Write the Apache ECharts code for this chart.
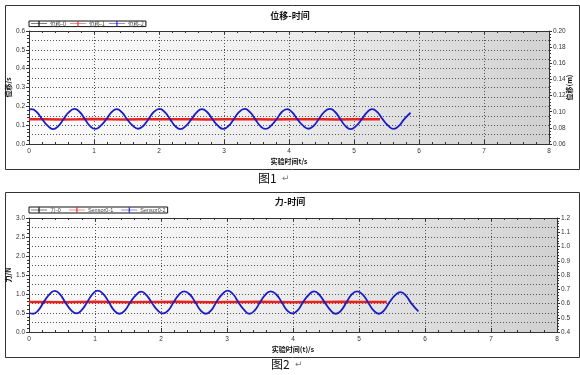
<!DOCTYPE html>
<html><head><meta charset="utf-8">
<script src="https://cdn.jsdelivr.net/npm/echarts@6/dist/echarts.min.js"></script>
<style>html,body{margin:0;padding:0;background:#fff}#c{width:580px;height:375px}</style>
</head><body><div id="c"></div>
<script>
// ---- data ----
const chart1Title = '位移-时间';
const chart2Title = '力-时间';
const chart1Names = ['位移-0', '位移-1', '位移-2'];
const chart2Names = ['力-0', 'Sensor0-1', 'Sensor0-2'];
const captions = ['图1', '图2'];

const c1BlueT = [0,
 0.04,0.12,0.20,0.29,0.37,0.45,0.53,0.61,
 0.70,0.78,0.86,0.94,1.02,1.10,1.19,1.27,
 1.35,1.43,1.51,1.60,1.68,1.76,1.84,1.92,
 2.01,2.09,2.17,2.25,2.33,2.41,2.50,2.58,
 2.66,2.74,2.82,2.91,2.99,3.07,3.15,3.23,
 3.32,3.40,3.48,3.56,3.64,3.72,3.81,3.89,
 3.97,4.05,4.13,4.22,4.30,4.38,4.46,4.54,
 4.63,4.71,4.79,4.87,4.95,5.03,5.12,5.20,
 5.28,5.36,5.44,5.53,5.61,5.69,5.77,5.87];
const c1BlueV = [0.183,
 0.185,0.169,0.133,0.096,0.079,0.095,0.131,0.168,
 0.186,0.170,0.132,0.095,0.080,0.096,0.132,0.169,
 0.185,0.168,0.131,0.096,0.081,0.097,0.133,0.170,
 0.186,0.169,0.132,0.095,0.079,0.095,0.132,0.168,
 0.185,0.170,0.133,0.096,0.080,0.096,0.131,0.169,
 0.186,0.169,0.132,0.095,0.080,0.096,0.132,0.170,
 0.185,0.168,0.131,0.096,0.081,0.097,0.133,0.169,
 0.186,0.170,0.132,0.095,0.079,0.095,0.132,0.168,
 0.185,0.169,0.132,0.096,0.080,0.096,0.131,0.166];
const c1RedT = [0,0.25,0.5,0.75,1,1.25,1.5,1.75,2,2.25,2.5,2.75,3,3.25,3.5,3.75,4,4.25,4.5,4.75,5,5.25,5.4];
const c1RedV = [0.131,0.132,0.130,0.131,0.133,0.131,0.130,0.132,0.131,0.131,0.132,0.130,0.131,0.132,0.131,0.130,0.131,0.132,0.131,0.130,0.131,0.132,0.131];

const c2BlueT = [0,
 0.06,0.14,0.22,0.31,0.39,0.47,0.55,0.64,
 0.72,0.80,0.88,0.96,1.04,1.13,1.21,1.29,
 1.37,1.45,1.53,1.62,1.70,1.78,1.86,1.95,
 2.03,2.11,2.19,2.27,2.35,2.44,2.52,2.60,
 2.68,2.76,2.84,2.93,3.01,3.09,3.17,3.26,
 3.34,3.42,3.50,3.58,3.66,3.75,3.83,3.91,
 3.99,4.07,4.15,4.24,4.32,4.40,4.48,4.57,
 4.65,4.73,4.81,4.89,4.97,5.06,5.14,5.22,
 5.30,5.38,5.46,5.55,5.63,5.71,5.79,5.90];
const c2BlueV = [0.50,
 0.48,0.57,0.78,0.99,1.08,0.99,0.78,0.57,
 0.49,0.58,0.78,0.99,1.09,0.99,0.78,0.57,
 0.48,0.56,0.77,0.97,1.06,0.97,0.77,0.57,
 0.49,0.57,0.78,0.98,1.07,0.98,0.78,0.57,
 0.48,0.57,0.79,1.00,1.09,1.00,0.79,0.58,
 0.48,0.57,0.78,0.98,1.07,0.98,0.78,0.57,
 0.49,0.57,0.78,0.98,1.07,0.98,0.78,0.57,
 0.48,0.57,0.78,0.99,1.07,0.98,0.77,0.57,
 0.48,0.57,0.78,0.97,1.05,0.96,0.76,0.54];
const c2RedT = [0,0.25,0.5,0.75,1,1.25,1.5,1.75,2,2.25,2.5,2.75,3,3.25,3.5,3.75,4,4.25,4.5,4.75,5,5.25,5.42];
const c2RedV = [0.79,0.79,0.785,0.79,0.795,0.79,0.785,0.79,0.79,0.795,0.79,0.785,0.79,0.79,0.795,0.79,0.785,0.79,0.79,0.795,0.79,0.79,0.79];

// ---- build ----
const zip = (t, v) => t.map((x, i) => [x, v[i]]);
const FONT = '"Liberation Sans", Arial, sans-serif';
const CJK = '"Noto Sans CJK SC", sans-serif';
const dark = '#333';
const bg = {type:'linear', x:0, y:0, x2:1, y2:1, colorStops:[{offset:0,color:'#fdfdfd'},{offset:0.5,color:'#ececec'},{offset:1,color:'#d0d0d0'}]};
const dotted = {color:'#555', width:1, type:[1,2]};
const plusIcon = 'path://M0,4.6H9.3V1.5H10.7V4.6H20V5.4H10.7V8.5H9.3V5.4H0Z';

function xBottom(gi, name){
  return {type:'value', gridIndex:gi, min:0, max:8, interval:1, position:'bottom',
    axisLine:{show:true, onZero:false, lineStyle:{color:dark}},
    axisTick:{show:true, inside:true, length:4, lineStyle:{color:dark}},
    minorTick:{show:true, splitNumber:5, length:2, lineStyle:{color:dark}},
    axisLabel:{fontSize:6.5, color:dark, fontFamily:FONT, margin:4},
    splitLine:{show:true, lineStyle:dotted},
    name:name, nameLocation:'middle', nameGap:14, nameMoveOverlap:false,
    nameTextStyle:{fontSize:7, fontWeight:'bold', color:'#111', fontFamily:CJK}};
}
function xTop(gi){
  return {type:'value', gridIndex:gi, min:0, max:8, interval:1, position:'top',
    axisLine:{show:true, onZero:false, lineStyle:{color:dark}},
    axisTick:{show:true, inside:true, length:3, lineStyle:{color:dark}},
    minorTick:{show:true, splitNumber:5, length:2, lineStyle:{color:dark}},
    axisLabel:{show:false}, splitLine:{show:false}};
}
function yAx(gi, pos, min, max, interval, dec, name, nameGap){
  return {type:'value', gridIndex:gi, position:pos, min:min, max:max, interval:interval,
    axisLine:{show:true, onZero:false, lineStyle:{color:dark}},
    axisTick:{show:true, length:3, lineStyle:{color:dark}},
    minorTick:{show:true, splitNumber:5, length:2, lineStyle:{color:dark}},
    axisLabel:{fontSize:6.5, color:dark, fontFamily:FONT, margin:4, formatter:v=>v.toFixed(dec)},
    splitLine:{show:false},
    name:name, nameLocation:'middle', nameGap:nameGap, nameRotate:90, nameMoveOverlap:false,
    nameTextStyle:{fontSize:7, fontWeight:'bold', color:'#111', fontFamily:CJK}};
}
function yGridAx(gi, min, max, interval){
  return {type:'value', gridIndex:gi, position:'left', min:min, max:max, interval:interval,
    axisLine:{show:false}, axisTick:{show:false}, axisLabel:{show:false},
    splitLine:{show:true, lineStyle:dotted}};
}

const option = {
  animation:false,
  backgroundColor:'#fff',
  title:[
    {text:chart1Title, left:'center', top:6, textStyle:{fontSize:9, fontWeight:'bold', color:'#111', fontFamily:CJK}},
    {text:chart2Title, left:'center', top:192, textStyle:{fontSize:9, fontWeight:'bold', color:'#111', fontFamily:CJK}}
  ],
  legend:[
    {data:chart1Names, left:29, top:21, orient:'horizontal', backgroundColor:'#fff', borderColor:'#111', borderWidth:1,
     padding:[0,2], itemGap:4, itemWidth:16, itemHeight:6, icon:plusIcon, textStyle:{fontSize:5.5, color:'#444', fontFamily:CJK, padding:[0,0,0,-2]}},
    {data:chart2Names, left:29, top:207, orient:'horizontal', backgroundColor:'#fff', borderColor:'#111', borderWidth:1,
     padding:[0,2], itemGap:8, itemWidth:16, itemHeight:6, icon:plusIcon, textStyle:{fontSize:5.5, color:'#444', fontFamily:FONT, padding:[0,0,0,-2]}}
  ],
  grid:[
    {left:29, top:31, width:520, height:113, show:true, backgroundColor:bg, borderWidth:0, outerBoundsMode:'none', containLabel:false},
    {left:29, top:218, width:528, height:114, show:true, backgroundColor:bg, borderWidth:0, outerBoundsMode:'none', containLabel:false}
  ],
  xAxis:[ xBottom(0,'实验时间t/s'), xTop(0), xBottom(1,'实验时间(t)/s'), xTop(1) ],
  yAxis:[
    yAx(0,'left',0,0.6,0.1,1,'位移/s',17),
    yAx(0,'right',0.06,0.20,0.02,2,'位移(m)',17),
    yGridAx(0,0,0.6,0.05),
    yAx(1,'left',0,3,0.5,1,'力/N',17),
    yAx(1,'right',0.4,1.2,0.1,1,'',19),
    yGridAx(1,0,3,0.25)
  ],
  series:[
    {name:chart1Names[0], type:'line', xAxisIndex:0, yAxisIndex:0, data:[], color:'#000', symbol:'none'},
    {name:chart1Names[1], type:'line', xAxisIndex:0, yAxisIndex:0, data:zip(c1RedT,c1RedV), color:'#e8231f', symbol:'none', lineStyle:{width:2.5}},
    {name:chart1Names[2], type:'line', xAxisIndex:0, yAxisIndex:0, data:zip(c1BlueT,c1BlueV), color:'#1c1cc4', symbol:'none', smooth:0.5, lineStyle:{width:1.8}},
    {name:chart2Names[0], type:'line', xAxisIndex:2, yAxisIndex:3, data:[], color:'#000', symbol:'none'},
    {name:chart2Names[1], type:'line', xAxisIndex:2, yAxisIndex:3, data:zip(c2RedT,c2RedV), color:'#e8231f', symbol:'none', lineStyle:{width:2.5}},
    {name:chart2Names[2], type:'line', xAxisIndex:2, yAxisIndex:3, data:zip(c2BlueT,c2BlueV), color:'#1c1cc4', symbol:'none', smooth:0.5, lineStyle:{width:1.8}}
  ],
  graphic:[
    {type:'rect', left:3, top:3, shape:{width:574, height:164}, style:{fill:'none', stroke:'#333', lineWidth:1}, silent:true, z:-1},
    {type:'rect', left:3, top:190, shape:{width:574, height:165}, style:{fill:'none', stroke:'#333', lineWidth:1}, silent:true, z:-1},
    {type:'text', left:258, top:172, style:{text:captions[0], font:'12px "Noto Sans CJK SC"', fill:'#111'}},
    {type:'text', left:282, top:174, style:{text:'↵', font:'9px "DejaVu Sans"', fill:'#777'}},
    {type:'text', left:271, top:358, style:{text:captions[1], font:'12px "Noto Sans CJK SC"', fill:'#111'}},
    {type:'text', left:295, top:360, style:{text:'↵', font:'9px "DejaVu Sans"', fill:'#777'}}
  ]
};
const chart = echarts.init(document.getElementById('c'), null, {renderer:'canvas'});
chart.setOption(option);
</script></body></html>
